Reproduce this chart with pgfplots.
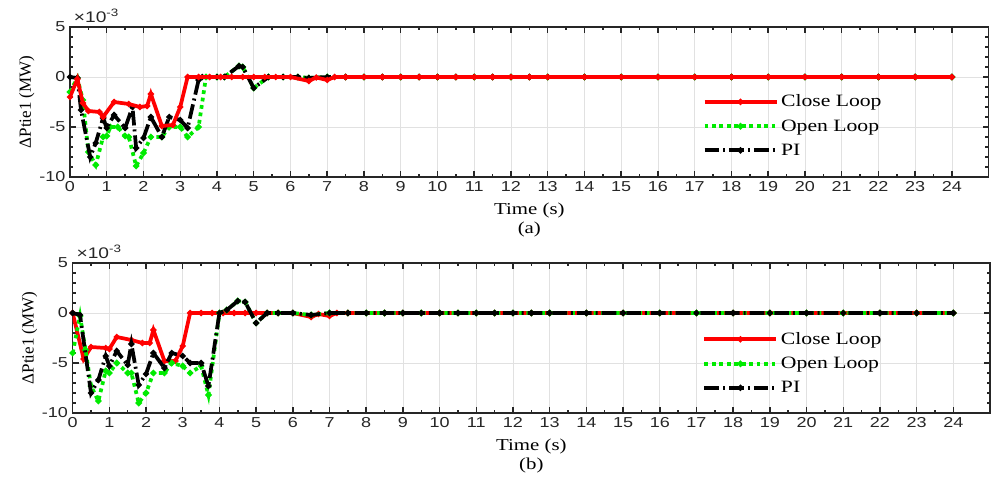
\documentclass[border=0pt]{standalone}
\usepackage{pgfplots}
\pgfplotsset{compat=1.18}
\usepackage{fontspec}
\setmainfont{Liberation Serif}[FakeStretch=1.25]
\newfontfamily\ylfont{Liberation Serif}
\newfontfamily\ticksf{Liberation Sans}[FakeStretch=1.25]
\definecolor{axgray}{RGB}{38,38,38}
\definecolor{gridgray}{RGB}{225,225,225}
\definecolor{mgreen}{RGB}{0,235,0}
\pgfplotsset{
  myaxis/.style={
    scale only axis, height=112.5pt,
    xmin=0, xmax=25, ymin=-10, ymax=5,
    xtick={0,1,...,24}, ytick={-10,-5,0,5},
    minor x tick num=1, minor y tick num=4,
    tick align=inside, tick pos=both,
    major tick length=4.5pt, minor tick length=2.5pt,
    grid=major, major grid style={gridgray, line width=0.6pt},
    axis line style={axgray, line width=1.1pt},
    every tick/.style={axgray, line width=1.1pt},
    tick label style={font=\ticksf\fontsize{10.8}{10.8}\selectfont, text=axgray},
    /pgf/number format/assume math mode=true,
    xlabel={Time (s)},
    xlabel style={font=\fontsize{12.5}{14}\selectfont, at={(axis description cs:0.5,-0.225)}, anchor=center},
    ylabel={ΔPtie1 (MW)},
    ylabel style={font=\ylfont\fontsize{12.75}{14}\selectfont, at={(axis description cs:-0.047,0.5)}, anchor=center, rotate=0},
    legend style={draw=none, fill=none, font=\fontsize{13}{14}\selectfont, anchor=north west, row sep=4pt},
    legend cell align=left,
    legend image code/.code={\draw[mark repeat=2,mark phase=2] plot coordinates {(0pt,0pt) (27pt,0pt) (54pt,0pt)};},
    clip mode=individual,
  },
  rl/.style={color=red, line width=2.8pt, solid, mark=*, mark size=0.6pt},
  gl/.style={color=mgreen, line width=2.8pt, dash pattern=on 2.8pt off 2.8pt, mark=*, mark size=0.7pt, mark options={solid}},
  bl/.style={color=black, line width=2.8pt, dash pattern=on 11pt off 3pt on 1.5pt off 3pt, mark=*, mark size=0.6pt, mark options={solid}},
}
\begin{document}
\begin{tikzpicture}
\useasboundingbox (0,0) rectangle (746.25pt,363.75pt);
% (a)
\begin{axis}[myaxis, at={(52.5pt,231pt)}, anchor=south west, width=689pt,
  legend style={at={(rel axis cs:0.684,0.585)}}]
\addlegendimage{rl}\addlegendentry{Close Loop}
\addlegendimage{gl}\addlegendentry{Open Loop}
\addlegendimage{bl}\addlegendentry{PI}
\addplot[gl, forget plot] coordinates {(0,-1.5) (0.2,-0.1) (0.35,-2.3) (0.5,-7.5) (0.7,-8.8) (0.9,-6.0) (1.0,-5.9) (1.1,-5.0) (1.3,-5.0) (1.5,-5.9) (1.6,-6.0) (1.8,-8.9) (2.0,-7.6) (2.2,-6.0) (2.5,-6.0) (2.7,-5.0) (3.0,-5.0) (3.2,-6.0) (3.5,-5.0) (3.7,0) (4.0,0) (4.2,0) (4.6,1.1) (4.7,1.0) (5.0,-1.1) (5.4,0) (5.8,0) (6.2,0) (6.5,-0.1) (7.0,0) (7.5,0) (8,0) (8.5,0) (9,0) (9.5,0) (10,0) (10.5,0) (11,0) (11.5,0) (12,0) (12.5,0) (13,0) (14,0) (15,0) (16,0) (17,0) (18,0) (19,0) (20,0) (21,0) (22,0) (23,0) (24,0)};
\addplot[bl, forget plot] coordinates {(0,0) (0.2,-0.1) (0.3,-3.3) (0.55,-8.0) (0.7,-6.6) (0.9,-4.1) (1.0,-5.1) (1.2,-3.8) (1.5,-5.1) (1.7,-3.0) (1.8,-7.1) (2.0,-6.1) (2.2,-4.0) (2.5,-6.0) (2.7,-4.0) (3.0,-4.3) (3.2,-5.1) (3.5,-0.3) (3.6,0) (4.0,0) (4.2,0) (4.6,1.1) (4.7,1.0) (5.0,-1.1) (5.4,0) (5.8,0) (6.2,0) (6.5,-0.1) (7.0,0) (7.5,0) (8,0) (8.5,0) (9,0) (9.5,0) (10,0) (10.5,0) (11,0) (11.5,0) (12,0) (12.5,0) (13,0) (14,0) (15,0) (16,0) (17,0) (18,0) (19,0) (20,0) (21,0) (22,0) (23,0) (24,0)};
\addplot[rl, forget plot] coordinates {(0,-2.0) (0.2,-0.2) (0.35,-2.6) (0.5,-3.4) (0.8,-3.5) (0.9,-4.0) (1.2,-2.5) (1.6,-2.7) (1.9,-3.0) (2.1,-2.9) (2.2,-1.7) (2.5,-4.9) (2.8,-4.8) (3.0,-3.0) (3.2,0) (3.5,0) (3.8,0) (4.1,0) (4.4,0) (4.7,0) (5.0,0) (5.3,0) (5.6,0) (6.0,0) (6.5,-0.4) (6.7,-0.05) (7.0,-0.3) (7.2,0) (7.5,0) (8,0) (8.5,0) (9,0) (9.5,0) (10,0) (10.5,0) (11,0) (11.5,0) (12,0) (12.5,0) (13,0) (14,0) (15,0) (16,0) (17,0) (18,0) (19,0) (20,0) (21,0) (22,0) (23,0) (24,0)};
\node[anchor=south west, inner sep=0pt, font=\ticksf\fontsize{11.5}{11.5}\selectfont, text=axgray] at (axis description cs:0.004,1.03) {×10\textsuperscript{-3}};
\node[font=\fontsize{12.5}{14}\selectfont] at (axis description cs:0.5,-0.35) {(a)};
\end{axis}
% (b)
\begin{axis}[myaxis, at={(54.5pt,54pt)}, anchor=south west, width=688pt,
  legend style={at={(rel axis cs:0.682,0.575)}}]
\addplot[rl] coordinates {(0,0) (0.3,-4.6) (0.5,-3.4) (0.9,-3.5) (1.0,-3.6) (1.2,-2.4) (1.6,-2.7) (1.9,-3.0) (2.1,-3.0) (2.2,-1.7) (2.5,-4.8) (2.8,-4.8) (3.0,-3.3) (3.2,0) (3.5,0) (3.8,0) (4.1,0) (4.4,0) (4.7,0) (5.0,0) (5.3,0) (5.6,0) (6.0,0) (6.5,-0.4) (6.7,-0.1) (7.0,-0.3) (7.2,0) (7.5,0) (8,0) (8.5,0) (9,0) (9.5,0) (10,0) (10.5,0) (11,0) (11.5,0) (12,0) (12.5,0) (13,0) (14,0) (15,0) (16,0) (17,0) (18,0) (19,0) (20,0) (21,0) (22,0) (23,0) (24,0)};
\addlegendentry{Close Loop}
\addplot[gl] coordinates {(0,-4.0) (0.2,-0.3) (0.35,-3.7) (0.5,-7.3) (0.7,-8.8) (0.9,-5.8) (1.0,-6.0) (1.2,-5.0) (1.5,-6.0) (1.6,-6.0) (1.8,-9.0) (2.0,-8.0) (2.2,-6.0) (2.5,-6.0) (2.7,-5.0) (3.0,-5.3) (3.2,-6.0) (3.5,-5.3) (3.7,-8.2) (4.0,0) (4.2,0.3) (4.5,1.2) (4.7,1.1) (5.0,-1.0) (5.3,0) (5.6,0) (6.0,0) (6.5,-0.2) (7.0,0) (7.5,0) (8,0) (8.5,0) (9,0) (9.5,0) (10,0) (10.5,0) (11,0) (11.5,0) (12,0) (12.5,0) (13,0) (14,0) (15,0) (16,0) (17,0) (18,0) (19,0) (20,0) (21,0) (22,0) (23,0) (24,0)};
\addlegendentry{Open Loop}
\addplot[bl] coordinates {(0,0) (0.2,-0.2) (0.5,-8.0) (0.7,-6.7) (0.9,-4.3) (1.0,-5.3) (1.2,-3.8) (1.5,-5.2) (1.6,-3.1) (1.8,-7.2) (2.0,-6.1) (2.2,-4.0) (2.5,-5.5) (2.7,-4.0) (3.0,-4.3) (3.2,-5.0) (3.5,-5.0) (3.7,-7.3) (4.0,0) (4.2,0.3) (4.5,1.2) (4.7,1.1) (5.0,-1.0) (5.3,0) (5.6,0) (6.0,0) (6.5,-0.2) (7.0,0) (7.5,0) (8,0) (8.5,0) (9,0) (9.5,0) (10,0) (10.5,0) (11,0) (11.5,0) (12,0) (12.5,0) (13,0) (14,0) (15,0) (16,0) (17,0) (18,0) (19,0) (20,0) (21,0) (22,0) (23,0) (24,0)};
\addlegendentry{PI}
\node[anchor=south west, inner sep=0pt, font=\ticksf\fontsize{11.5}{11.5}\selectfont, text=axgray] at (axis description cs:0.004,1.03) {×10\textsuperscript{-3}};
\node[font=\fontsize{12.5}{14}\selectfont] at (axis description cs:0.5,-0.35) {(b)};
\end{axis}
\end{tikzpicture}
\end{document}
